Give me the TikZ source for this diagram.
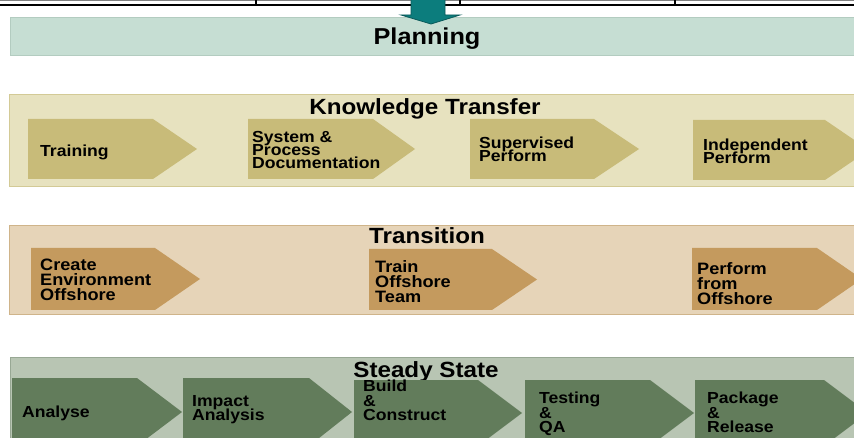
\documentclass[tikz,border=0pt]{standalone}
\usepackage{fontspec}
\setmainfont{Liberation Sans}[FakeStretch=1.1]
\definecolor{planfill}{HTML}{C6DED3}
\definecolor{planedge}{HTML}{B3CCC0}
\definecolor{ktfill}{HTML}{E7E2BF}
\definecolor{ktedge}{HTML}{D3CA96}
\definecolor{ktchev}{HTML}{C8BB79}
\definecolor{trfill}{HTML}{E6D4B8}
\definecolor{tredge}{HTML}{CFB48A}
\definecolor{trchev}{HTML}{C49A5E}
\definecolor{ssfill}{HTML}{B8C5B3}
\definecolor{ssedge}{HTML}{98A894}
\definecolor{sschev}{HTML}{627C5B}
\definecolor{arrowteal}{HTML}{0C7D7D}
\definecolor{arrowdark}{HTML}{0A5A5A}
% chevron: style, left x, top y, bottom y, end of body x, tip x
\newcommand{\chevfill}[6]{\fill[#1] (#2,#3) -- (#5,#3) -- (#6,{(#3+#4)/2}) -- (#5,#4) -- (#2,#4) -- cycle;}
% tight line spacing for the step labels
\newcommand{\tightlines}{\setlength{\lineskiplimit}{-100pt}}
\begin{document}
\setlength{\lineskiplimit}{-100pt}
\begin{tikzpicture}[x=1pt,y={(0pt,-1pt)},
  title/.style={anchor=base, inner sep=0pt, font=\bfseries\fontsize{22}{24}\selectfont},
  ktlabel/.style={anchor=north west, inner sep=0pt, align=left,
    font=\bfseries\fontsize{16}{13}\selectfont\tightlines},
  trlabel/.style={anchor=north west, inner sep=0pt, align=left,
    font=\bfseries\fontsize{16.5}{15}\selectfont\tightlines},
  sslabel/.style={anchor=north west, inner sep=0pt, align=left,
    font=\bfseries\fontsize{16}{14.5}\selectfont\tightlines},
  bandline/.style={line width=1pt}]
\useasboundingbox (0,0) rectangle (854,438);
\clip (0,0) rectangle (854,438);

% table edge at the top
\draw[gray, line width=0.8pt] (0,0.8) -- (854,0.8);
\draw[black, line width=2pt] (0,5) -- (854,5);
\foreach \xx in {256,460,675} \draw[black, line width=1.2pt] (\xx,0) -- (\xx,5);

% phase bands
\filldraw[fill=planfill, draw=planedge, bandline] (10,18) rectangle (860,56);
\filldraw[fill=ktfill, draw=ktedge, bandline] (9,95) rectangle (860,187);
\filldraw[fill=trfill, draw=tredge, bandline] (9,226) rectangle (860,315);
\filldraw[fill=ssfill, draw=ssedge, bandline] (10,357) rectangle (860,450);

% band titles
\node[title, font=\bfseries\fontsize{23}{25}\selectfont] (plan) at (427,45) {Planning};
\node[title] (kt) at (425,115) {Knowledge Transfer};
\node[title] (tr) at (427,244) {Transition};
\node[title] (ss) at (426,377) {Steady State};

% knowledge transfer steps
\chevfill{ktchev}{28}{119}{179}{153}{197}
\chevfill{ktchev}{248}{119}{179}{373}{415}
\chevfill{ktchev}{470}{119}{179}{594}{639}
\chevfill{ktchev}{693}{120}{180}{825}{869}
\node[ktlabel] (training) at (40,145) {Training};
\node[ktlabel] (sysdoc) at (252,131) {System \&\\Process\\Documentation};
\node[ktlabel] (superv) at (479,137) {Supervised\\Perform};
\node[ktlabel] (indep) at (703,139) {Independent\\Perform};

% transition steps
\chevfill{trchev}{31}{248}{310}{155}{200}
\chevfill{trchev}{369}{249}{310}{492}{537}
\chevfill{trchev}{692}{248}{310}{817}{862}
\node[trlabel] (createenv) at (40,259) {Create\\Environment\\Offshore};
\node[trlabel] (trainoff) at (375,260) {Train\\Offshore\\Team};
\node[trlabel] (perfoff) at (697,262) {Perform\\from\\Offshore};

% steady state steps
\chevfill{sschev}{12}{378}{446}{137}{182}
\chevfill{sschev}{183}{378}{446}{309}{352}
\chevfill{sschev}{354}{380}{446}{478}{522}
\chevfill{sschev}{525}{380}{446}{650}{694}
\chevfill{sschev}{695}{380}{446}{824}{868}
\node[sslabel] (analyse) at (22,406) {Analyse};
\node[sslabel] (impact) at (192,395) {Impact\\Analysis};
\node[sslabel] (build) at (363,380) {Build\\\&\\Construct};
\node[sslabel] (testing) at (539,392) {Testing\\\&\\QA};
\node[sslabel] (package) at (707,392) {Package\\\&\\Release};

% block arrow into planning
\filldraw[fill=arrowteal, draw=arrowdark, line width=0.8pt, line join=miter]
  (411,-2) -- (445,-2) -- (445,15) -- (460,15) -- (431,24) -- (401,15) -- (411,15) -- cycle;
\end{tikzpicture}
\end{document}
